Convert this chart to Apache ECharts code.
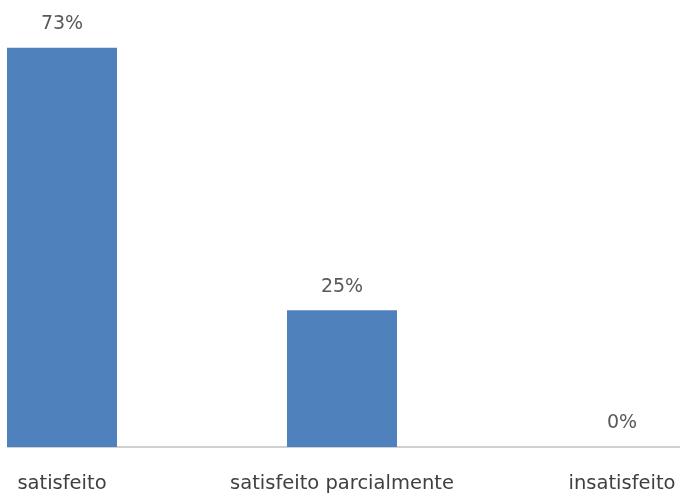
<!DOCTYPE html>
<html>
<head>
<meta charset="utf-8">
<script src="https://cdn.jsdelivr.net/npm/echarts@6/dist/echarts.min.js"></script>
<style>html,body{margin:0;padding:0;background:#fff;}#c{width:680px;height:494px;}</style>
</head>
<body>
<div id="c"></div>
<script>
const categories = ['satisfeito', 'satisfeito parcialmente', 'insatisfeito'];
const values = [73, 25, 0];

const chart = echarts.init(document.getElementById('c'), null, {renderer: 'canvas'});
const font = 'DejaVu Sans';
chart.setOption({
  animation: false,
  grid: [
    {left: -78, width: 840, top: 9.4, bottom: 47, containLabel: false, outerBoundsMode: 'none'},
    {left: 8, right: 0, top: 9.4, bottom: 47, containLabel: false, outerBoundsMode: 'none'}
  ],
  xAxis: [
    {
      type: 'category', gridIndex: 0, data: categories,
      axisLine: {show: false}, axisTick: {show: false},
      axisLabel: {color: '#404040', fontSize: 19.5, fontFamily: font, margin: 27, interval: 0}
    },
    {
      type: 'value', gridIndex: 1, min: 0, max: 1,
      axisLine: {show: true, onZero: false, lineStyle: {color: '#D0D0D0', width: 2}},
      axisTick: {show: false}, axisLabel: {show: false}, splitLine: {show: false}
    }
  ],
  yAxis: [
    {type: 'value', gridIndex: 0, min: 0, max: 80, show: false, splitLine: {show: false}},
    {type: 'value', gridIndex: 1, min: 0, max: 80, show: false, splitLine: {show: false}}
  ],
  series: [{
    type: 'bar', xAxisIndex: 0, yAxisIndex: 0,
    data: values, barWidth: 110,
    itemStyle: {color: '#4F81BD'},
    label: {
      show: true, position: 'top', distance: 14,
      formatter: p => p.value + '%',
      color: '#595959', fontSize: 19, fontFamily: font
    }
  }]
});
</script>
</body>
</html>
